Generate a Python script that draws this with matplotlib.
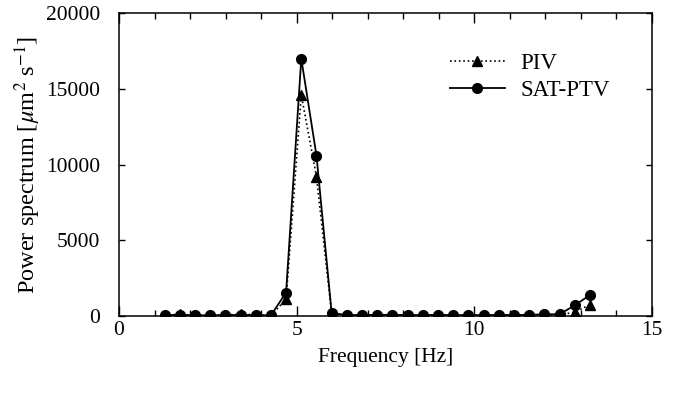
import numpy as np
import matplotlib
matplotlib.use("Agg")
import matplotlib.pyplot as plt
from matplotlib.ticker import MultipleLocator

plt.rcParams["font.family"] = ["Liberation Serif", "DejaVu Serif"]
plt.rcParams["mathtext.fontset"] = "stix"

# ── data ──────────────────────────────────────────────────────────────────────
DF = 0.4275
K = np.arange(3, 32)
freq = K * DF
piv = [80, 100, 60, 50, 70, 120, 80, 50,
       1100, 14600, 9200, 150,
       60, 70, 80, 90, 70, 60, 80, 70, 60, 70, 80, 70, 90, 100,
       80, 250, 750]
sat_ptv = [60, 70, 50, 40, 60, 70, 60, 40,
           1550, 17000, 10600, 200,
           60, 70, 70, 80, 60, 60, 70, 60, 50, 60, 70, 60, 80, 100,
           120, 700, 1390]

fig = plt.figure(figsize=(6.73, 3.99), dpi=100)
ax = fig.add_axes([0.1768, 0.208, 0.7920, 0.759])

ax.plot(freq, piv, color="black", ls=":", lw=1.2, marker="^", markersize=7.5,
        label="PIV", zorder=3)
ax.plot(freq, sat_ptv, color="black", ls="-", lw=1.3, marker="o", markersize=7,
        label="SAT-PTV", zorder=4)

ax.set_xlim(0, 15)
ax.set_ylim(0, 20000)
ax.xaxis.set_major_locator(MultipleLocator(5))
ax.xaxis.set_minor_locator(MultipleLocator(1))
ax.yaxis.set_major_locator(MultipleLocator(5000))
ax.tick_params(axis="both", which="both", direction="in", top=True, right=True,
               labelsize=15.5, width=1.0)
ax.tick_params(axis="x", which="major", length=7, pad=3.5)
ax.tick_params(axis="x", which="minor", length=4)
ax.tick_params(axis="y", which="major", length=4.5, pad=13.5)
for sp in ax.spines.values():
    sp.set_linewidth(1.1)

ax.set_xlabel("Frequency [Hz]", fontsize=15.5, labelpad=6)
ax.set_ylabel(r"Power spectrum [$\mu$m$^2$ s$^{-1}$]", fontsize=17.5, labelpad=2.5)

ax.legend(loc="upper right", bbox_to_anchor=(0.96, 0.937), frameon=False,
          fontsize=16.5, handlelength=2.4, handletextpad=0.7, labelspacing=0.25)

fig.savefig("out.png", dpi=100)
